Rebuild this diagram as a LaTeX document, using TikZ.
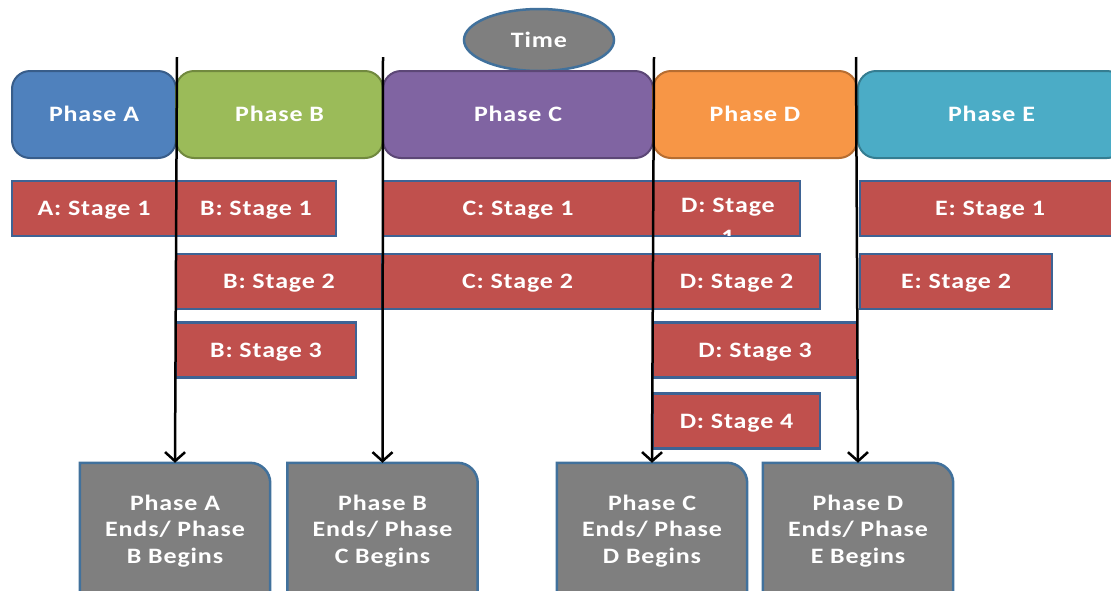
\documentclass[tikz,border=0pt]{standalone}
\usepackage{fontspec}
\setmainfont[FakeStretch=1.18,LetterSpace=4]{Carlito}
\usetikzlibrary{shapes.geometric,arrows.meta}
\definecolor{cA}{HTML}{4F81BD}\definecolor{cAd}{HTML}{385D8A}
\definecolor{cB}{HTML}{9BBB59}\definecolor{cBd}{HTML}{71893F}
\definecolor{cC}{HTML}{8064A2}\definecolor{cCd}{HTML}{5C4776}
\definecolor{cD}{HTML}{F79646}\definecolor{cDd}{HTML}{B66D31}
\definecolor{cE}{HTML}{4BACC6}\definecolor{cEd}{HTML}{357D91}
\definecolor{stred}{HTML}{C0504D}\definecolor{stblue}{HTML}{3E6394}
\definecolor{tgray}{HTML}{7F7F7F}\definecolor{tblue}{HTML}{41719C}
\begin{document}
\begin{tikzpicture}[x=1pt,y=-1pt,
  every node/.style={font=\fontsize{22}{26.5}\selectfont\bfseries, text=white, inner sep=0pt},
  oneline/.style={text height=18pt, text depth=4pt},
  phasebox/.style={oneline, rectangle, rounded corners=18pt, minimum height=87pt, line width=2pt},
  stagebox/.style={oneline, rectangle, fill=stred, draw=stblue, line width=2.5pt, minimum height=55pt},
  endbox/.style={rectangle, minimum width=190pt, minimum height=130pt},
  endtext/.style={align=center},
  endshape/.style={fill=tgray, draw=tblue, line width=2.5pt},
  vline/.style={draw=black, line width=2.5pt, -{Straight Barb[length=9pt,width=20pt]}}]
\clip (0,0) rectangle (1111,590);
% time
\node[oneline, ellipse, fill=tgray, draw=tblue, line width=2.5pt, minimum width=150pt, minimum height=62pt] (time) at (539,40) {Time};
% phases
\node[phasebox, fill=cA, draw=cAd, minimum width=164pt] (pA) at (94,114.5) {Phase A};
\node[phasebox, fill=cB, draw=cBd, minimum width=207pt] (pB) at (279.5,114.5) {Phase B};
\node[phasebox, fill=cC, draw=cCd, minimum width=270pt] (pC) at (518,114.5) {Phase C};
\node[phasebox, fill=cD, draw=cDd, minimum width=204pt] (pD) at (755,114.5) {Phase D};
\node[phasebox, fill=cE, draw=cEd, minimum width=267pt] (pE) at (991.5,114.5) {Phase E};
% stages row 1
\node[stagebox, minimum width=164pt] (sA1) at (94,208.5) {A: Stage 1};
\node[stagebox, minimum width=160pt] (sB1) at (256,208.5) {B: Stage 1};
\node[stagebox, minimum width=270pt] (sC1) at (518,208.5) {C: Stage 1};
\node[stagebox, minimum width=147pt] (sD1) at (726.5,208.5) {};
\begin{scope}
\clip ([shift={(1.5pt,1.5pt)}]sD1.south west) rectangle ([shift={(-1.5pt,-1.5pt)}]sD1.north east);
\node[anchor=north, align=center] (sD1t) at (728,198) {D: Stage\\[5pt]1};
\end{scope}
\node[stagebox, minimum width=260pt] (sE1) at (990,208.5) {E: Stage 1};
% row 2
\node[stagebox, minimum width=206pt] (sB2) at (279,281.5) {B: Stage 2};
\node[stagebox, minimum width=271pt] (sC2) at (517.5,281.5) {C: Stage 2};
\node[stagebox, minimum width=167pt] (sD2) at (736.5,281.5) {D: Stage 2};
\node[stagebox, minimum width=192pt] (sE2) at (956,281.5) {E: Stage 2};
% row 3
\node[stagebox, minimum width=180pt] (sB3) at (266,350) {B: Stage 3};
\node[stagebox, minimum width=204pt] (sD3) at (755,350) {D: Stage 3};
% row 4
\node[stagebox, minimum width=167pt] (sD4) at (736.5,421) {D: Stage 4};
% end boxes
\node[endbox] (g1) at (175,528) {};
\node[endbox] (g2) at (382.5,528) {};
\node[endbox] (g3) at (652,528) {};
\node[endbox] (g4) at (858,528) {};
\foreach \n in {g1,g2,g3,g4}
  \filldraw[endshape] ([yshift=-10pt]\n.south west) -- (\n.north west) -- ([xshift=-20pt]\n.north east)
     arc[start angle=90,end angle=0,radius=20pt] -- ([yshift=-10pt]\n.south east) -- cycle;
\node[endtext] (g1t) at ([yshift=-3pt]g1) {Phase A\\Ends/ Phase\\B Begins};
\node[endtext] (g2t) at ([yshift=-3pt]g2) {Phase B\\Ends/ Phase\\C Begins};
\node[endtext] (g3t) at ([yshift=-3pt]g3) {Phase C\\Ends/ Phase\\D Begins};
\node[endtext] (g4t) at ([yshift=-3pt]g4) {Phase D\\Ends/ Phase\\E Begins};
% lines
\coordinate (l1) at (177,57);
\coordinate (l2) at (383,57);
\coordinate (l3) at (654,57);
\coordinate (l4) at (856,57);
\draw[vline] (l1) -- (g1.north);
\draw[vline] (l2) -- (g2.north);
\draw[vline] (l3) -- (g3.north);
\draw[vline] (l4) -- (g4.north);
\end{tikzpicture}
\end{document}
